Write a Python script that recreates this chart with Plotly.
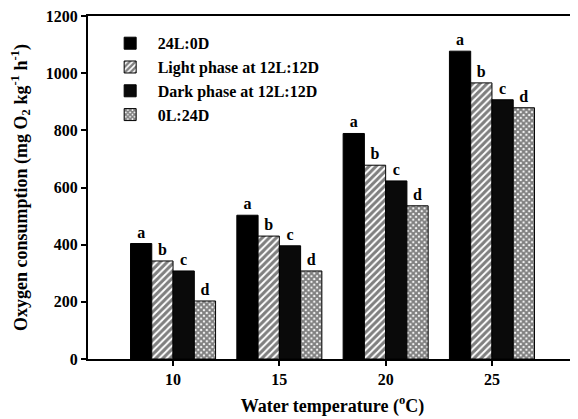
import plotly.graph_objects as go

temps = [10, 15, 20, 25]
series_names = ["24L:0D", "Light phase at 12L:12D", "Dark phase at 12L:12D", "0L:24D"]
v_24L = [404, 503, 789, 1077]
v_light = [343, 430, 678, 966]
v_dark = [308, 396, 623, 907]
v_0L = [203, 308, 536, 879]
letters_24L = ["a", "a", "a", "a"]
letters_light = ["b", "b", "b", "b"]
letters_dark = ["c", "c", "c", "c"]
letters_0L = ["d", "d", "d", "d"]

FONT = "Liberation Serif"
styles = [
    dict(color="black", pattern=None),
    dict(color="white", pattern=dict(shape="/", fgcolor="black", bgcolor="white", size=5, solidity=0.6)),
    dict(color="#0a0a0a", pattern=None),
    dict(color="white", pattern=dict(shape="x", fgcolor="black", bgcolor="white", size=4, solidity=0.75)),
]
values = [v_24L, v_light, v_dark, v_0L]
letters = [letters_24L, letters_light, letters_dark, letters_0L]

fig = go.Figure()
for name, vals, lets, st in zip(series_names, values, letters, styles):
    marker = dict(color=st["color"], line=dict(color="black", width=1))
    if st["pattern"]:
        marker["pattern"] = st["pattern"]
    fig.add_trace(go.Bar(
        x=temps, y=vals, name=name, marker=marker,
        text=lets, textposition="outside", cliponaxis=False,
        textfont=dict(family=FONT, size=16, color="black", weight="bold"),
    ))

fig.update_layout(
    width=570, height=411,
    margin=dict(l=80, r=1, t=8, b=60),
    paper_bgcolor="white", plot_bgcolor="white",
    barmode="group", bargap=0.2, bargroupgap=0,
    font=dict(family=FONT, color="black"),
    showlegend=True,
    legend=dict(x=0.03, y=0.97, xanchor="left", yanchor="top",
                bgcolor="rgba(0,0,0,0)", tracegroupgap=0, itemwidth=45,
                font=dict(family=FONT, size=16, color="black", weight="bold")),
)
fig.update_xaxes(
    range=[6, 29], tickvals=temps, ticktext=[str(t) for t in temps],
    showline=True, linecolor="black", linewidth=2, mirror=True,
    ticks="outside", ticklen=5, tickwidth=1.5, tickcolor="black",
    showgrid=False, zeroline=False, automargin=False,
    tickfont=dict(family=FONT, size=16, color="black", weight="bold"),
    title=dict(text="Water temperature (<sup>o</sup>C)", standoff=12,
               font=dict(family=FONT, size=18, color="black", weight="bold")),
)
fig.update_yaxes(
    range=[0, 1200], tickvals=[0, 200, 400, 600, 800, 1000, 1200],
    showline=True, linecolor="black", linewidth=2, mirror=True,
    ticks="outside", ticklen=5, tickwidth=1.5, tickcolor="black",
    showgrid=False, zeroline=False, automargin=False, ticklabeloverflow="allow",
    tickfont=dict(family=FONT, size=16, color="black", weight="bold"),
    title=dict(text="Oxygen consumption (mg O<sub>2</sub> kg<sup>-1</sup> h<sup>-1</sup>)", standoff=14,
               font=dict(family=FONT, size=18, color="black", weight="bold")),
)

fig.write_html("out.html")
